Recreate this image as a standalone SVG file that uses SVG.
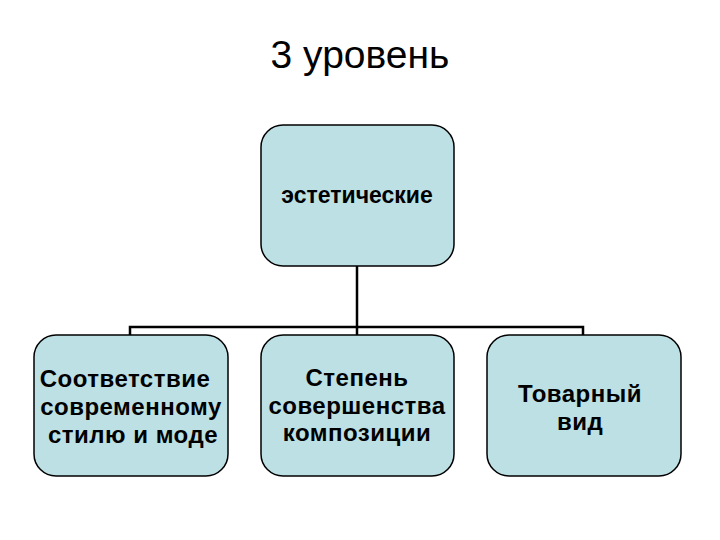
<svg xmlns="http://www.w3.org/2000/svg" width="720" height="540" viewBox="0 0 720 540">
<style>
.box{fill:#bde0e4;stroke:#000;stroke-width:1.5}
.t{font-family:"Liberation Sans",Arial,sans-serif;font-weight:bold;font-size:24px;fill:#000;text-anchor:middle;letter-spacing:0.5px}
.c{fill:none;stroke:#000;stroke-width:2.5}
</style>
<rect width="720" height="540" fill="#fff"/>
<text x="360" y="68" font-family="Liberation Sans,Arial,sans-serif" font-size="39" text-anchor="middle">3 уровень</text>
<g id="connectors">
<path class="c" d="M357 266V327M130 336V327H583V336M357 327V336"/>
</g>
<g id="n0"><rect class="box" x="261" y="125" width="193" height="141" rx="22"/>
<text class="t" x="357" y="203" style="font-size:23px;letter-spacing:0">эстетические</text></g>
<g id="n1"><rect class="box" x="34" y="335" width="194" height="141" rx="22"/>
<text class="t" x="125" y="387">Соответствие</text>
<text class="t" x="131" y="415">современному</text>
<text class="t" x="133" y="443">стилю и моде</text></g>
<g id="n2"><rect class="box" x="261" y="335" width="193" height="141" rx="22"/>
<text class="t" x="357" y="386">Степень</text>
<text class="t" x="357" y="414">совершенства</text>
<text class="t" x="357" y="441">композиции</text></g>
<g id="n3"><rect class="box" x="487" y="335" width="194" height="141" rx="22"/>
<text class="t" x="580" y="402">Товарный</text>
<text class="t" x="580" y="430">вид</text></g>
</svg>
